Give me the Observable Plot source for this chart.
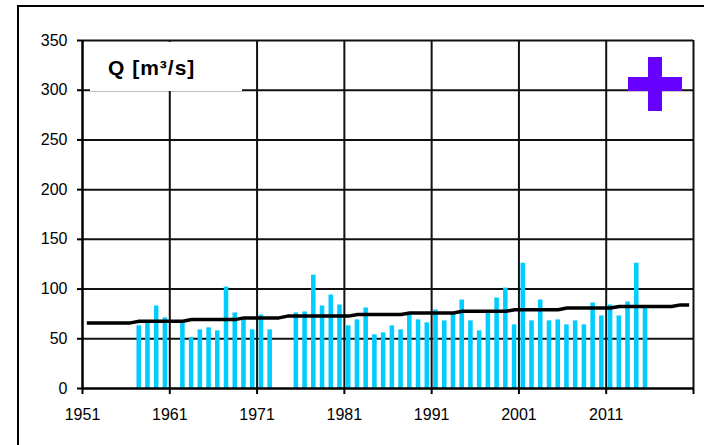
<!DOCTYPE html>
<html><head><meta charset="utf-8">
<script src="https://cdn.jsdelivr.net/npm/d3@7"></script>
<script src="https://cdn.jsdelivr.net/npm/@observablehq/plot@0.6"></script>
<style>
body{margin:0;background:#fff;}
#wrap{position:relative;width:704px;height:445px;overflow:hidden;font-family:"Liberation Sans",Arial,sans-serif;}
#frame{position:absolute;left:17px;top:5px;width:720px;height:470px;border:2px solid #000;box-sizing:border-box;}
#chart{position:absolute;left:0;top:0;}
#titlebox{position:absolute;left:90px;top:42px;width:152px;height:49px;background:#fff;}
#title{position:absolute;left:108px;top:57px;font:bold 21px "Liberation Sans",Arial,sans-serif;letter-spacing:1px;line-height:21px;white-space:nowrap;color:#000;}
.plus-v{position:absolute;left:648px;top:57px;width:14px;height:54px;background:#6600ff;}
.plus-h{position:absolute;left:628px;top:77px;width:54px;height:14px;background:#6600ff;}
</style></head>
<body>
<div id="wrap">
  <div id="frame"></div>
  <div id="chart"></div>
  <div id="titlebox"></div>
  <div id="title">Q [m³/s]</div>
  <div class="plus-v"></div>
  <div class="plus-h"></div>
</div>
<script>
// Annual discharge bars (years with data)
const barYears = [1957,1958,1959,1960,
  1962,1963,1964,1965,1966,1967,1968,1969,1970,1971,1972,
  1975,1976,1977,1978,1979,1980,1981,1982,1983,1984,
  1985,1986,1987,1988,1989,1990,1991,1992,1993,1994,
  1995,1996,1997,1998,1999,2000,2001,2002,2003,2004,
  2005,2006,2007,2008,2009,2010,2011,2012,2013,2014,2015];
const barValues = [63,66,83,71,
  66,51,59,61,58,102,76,69,59,74,59,
  76,77,114,83,94,84,63,69,81,54,
  56,63,59,75,69,66,79,68,75,89,
  68,58,76,91,101,64,126,68,89,68,
  69,64,68,64,86,73,84,73,87,126,81];

// Trend line values, one per year 1951-2020
const trendYears = d3.range(1951, 2021);
const trendValues = [
  66,66,66,66,66,66,
  67.7,67.7,67.7,67.7,67.7,67.7,
  69.3,69.3,69.3,69.3,69.3,69.3,
  71,71,71,71,71,
  72.8,
  72.8,72.8,72.8,72.8,72.8,72.8,72.8,
  74.5,74.5,74.5,74.5,74.5,74.5,
  76,76,76,76,76,76,
  77.6,77.6,77.6,77.6,77.6,77.6,
  79.2,79.2,79.2,79.2,79.2,79.2,
  80.9,80.9,80.9,80.9,80.9,80.9,
  82.5,82.5,82.5,82.5,82.5,82.5,82.5,
  84.1,84.1];

const xTicks = [1951,1961,1971,1981,1991,2001,2011,2021];
const yTicks = [0,50,100,150,200,250,300,350];

const bars = barYears.map((year, i) => ({year, q: barValues[i]}));
const trend = trendYears.map((year, i) => ({year, q: trendValues[i]}));

const chart = Plot.plot({
  width: 704,
  height: 445,
  marginLeft: 82,
  marginRight: 11,
  marginTop: 40,
  marginBottom: 57,
  style: {fontFamily: "'Liberation Sans', Arial, sans-serif", fontSize: "16px", color: "#000", background: "transparent"},
  x: {domain: [1951, 2021]},
  y: {domain: [0, 350]},
  marks: [
    Plot.gridY(yTicks.filter(v => v > 0), {stroke: "#111", strokeOpacity: 1, strokeWidth: 2}),
    Plot.gridX(xTicks.filter(v => v > 1951), {stroke: "#111", strokeOpacity: 1, strokeWidth: 2}),
    Plot.rectY(bars, {x1: d => d.year + 0.24, x2: d => d.year + 0.76, y: "q", fill: "#00ccff"}),
    Plot.line(trend, {x: d => d.year + 0.5, y: "q", stroke: "#000", strokeWidth: 3.5, strokeLinecap: "butt"}),
    Plot.ruleX([1951], {stroke: "#000", strokeWidth: 2.5}),
    Plot.ruleY([0], {stroke: "#000", strokeWidth: 2.5}),
    Plot.axisX({ticks: xTicks, tickFormat: d => d === 2021 ? "" : String(d), tickSize: 6, tickPadding: 14, fontSize: 16, label: null, strokeWidth: 2}),
    Plot.axisY({ticks: yTicks, tickFormat: d => String(d), tickSize: 5, tickPadding: 10, fontSize: 16, label: null, strokeWidth: 2})
  ]
});
document.getElementById("chart").appendChild(chart);
</script>
</body></html>
